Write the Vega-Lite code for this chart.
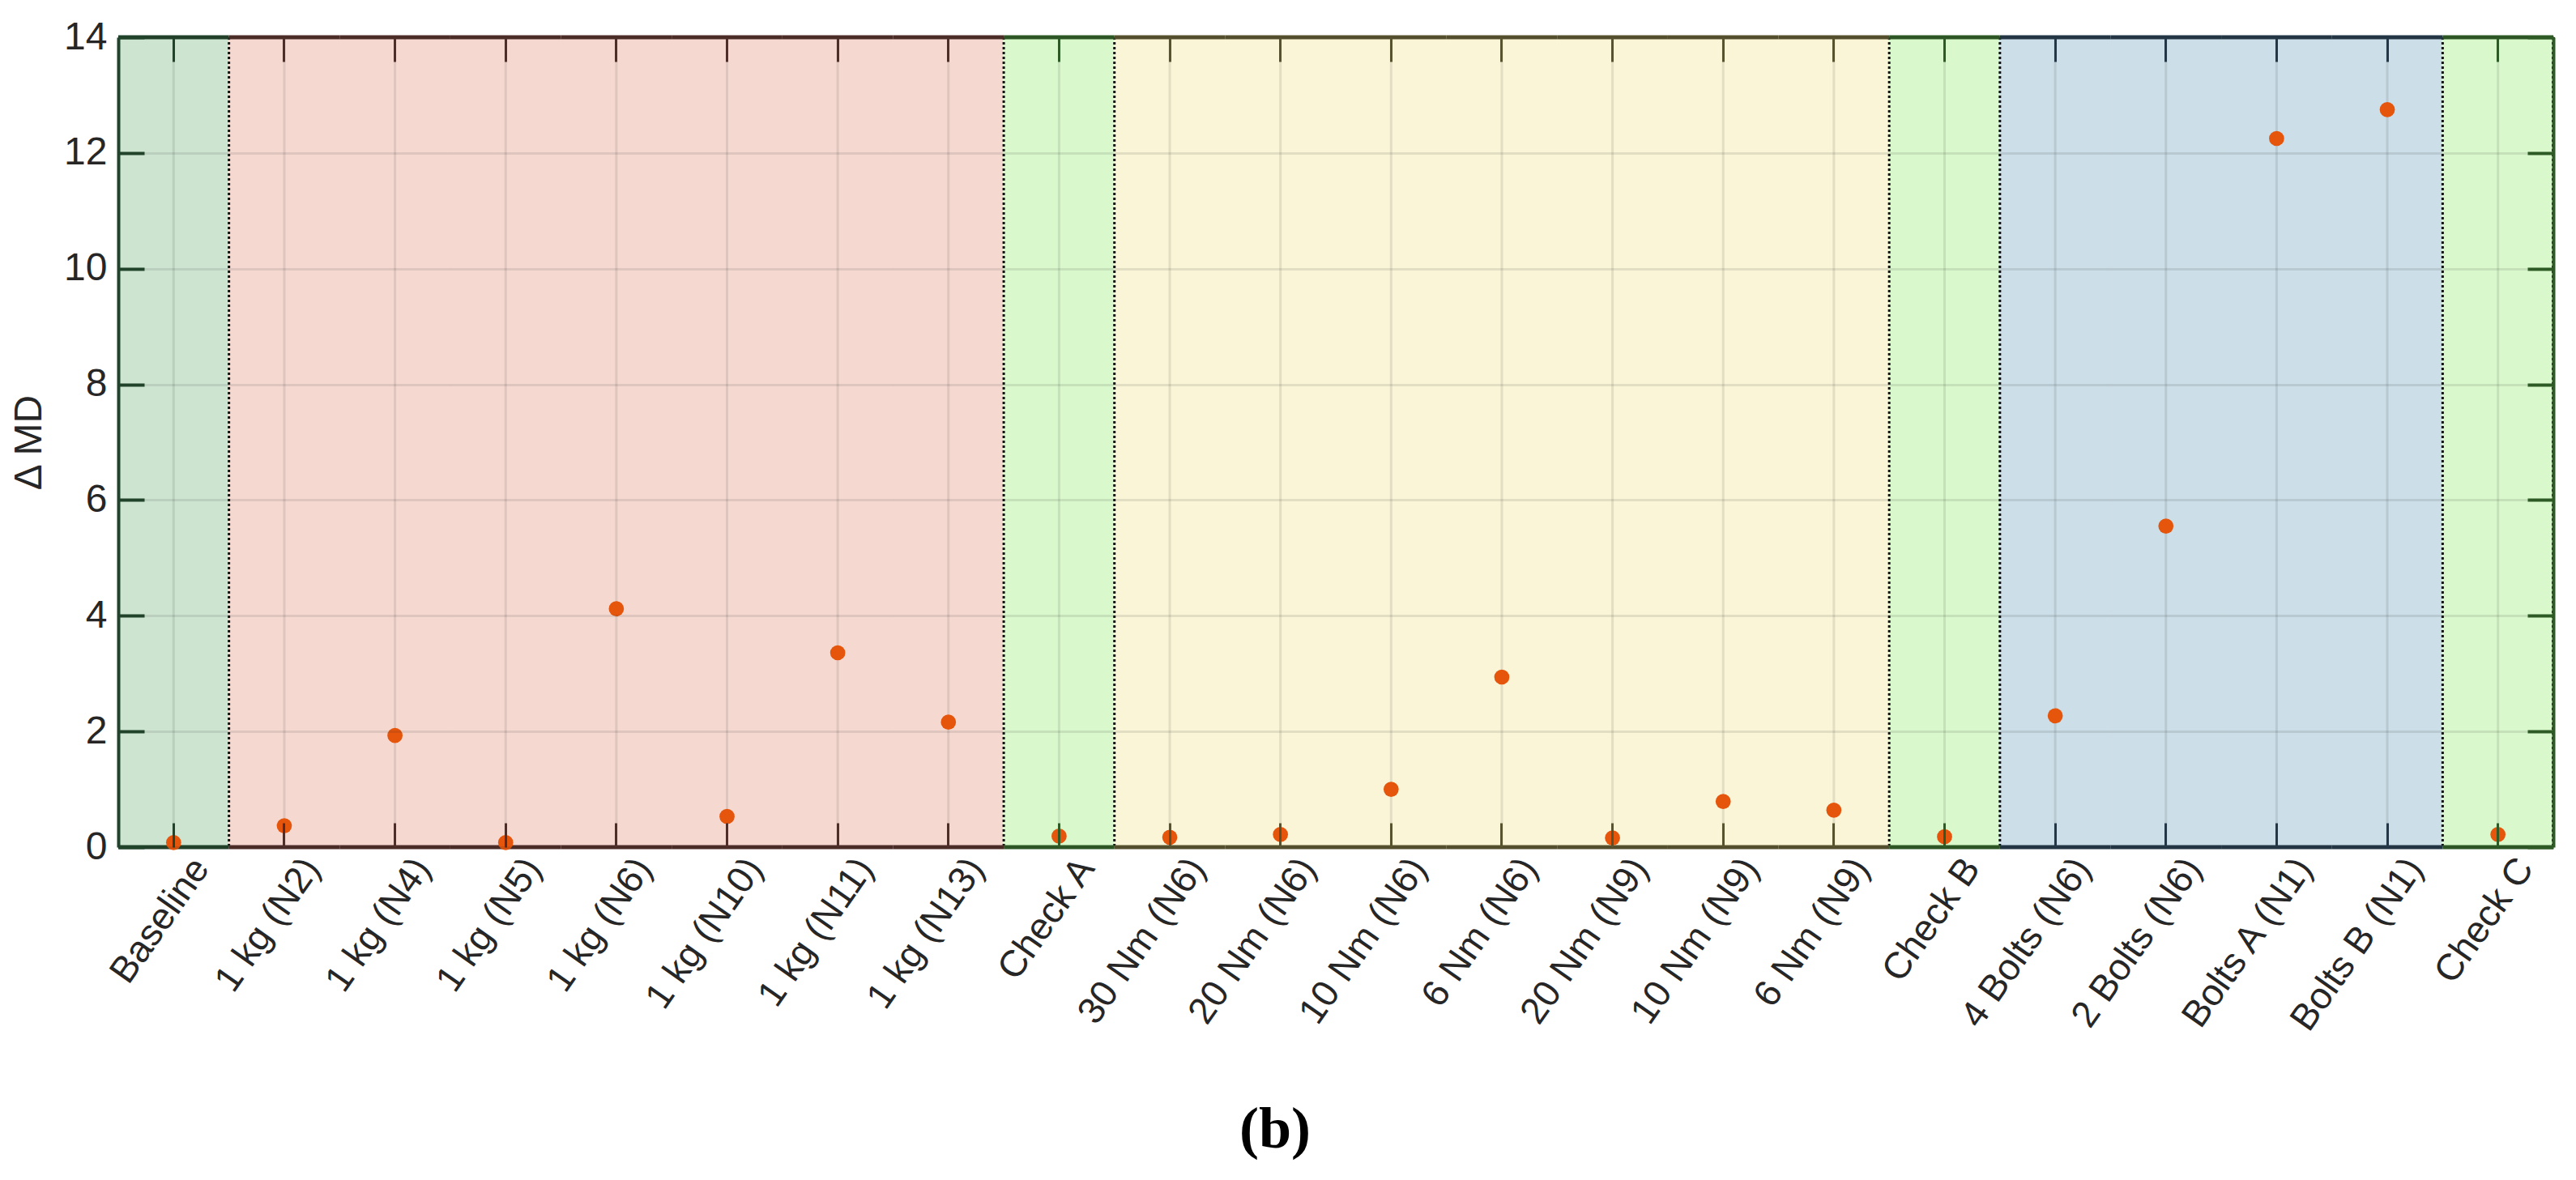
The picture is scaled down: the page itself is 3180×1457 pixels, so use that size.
{
  "$schema": "https://vega.github.io/schema/vega-lite/v6.json",
  "width": 3006,
  "height": 1000,
  "autosize": {"type": "none"},
  "padding": {"left": 146, "top": 46, "right": 28, "bottom": 411},
  "background": "white",
  "title": {
    "text": "(b)",
    "orient": "bottom",
    "anchor": "middle",
    "font": "Liberation Serif",
    "fontWeight": "bold",
    "fontSize": 72,
    "color": "black",
    "offset": 80,
    "dx": -75
  },
  "datasets": {
    "cases": [
      {"cat": "Baseline", "group": "Baseline", "dmd": 0.08},
      {"cat": "1 kg (N2)", "group": "Mass", "dmd": 0.37},
      {"cat": "1 kg (N4)", "group": "Mass", "dmd": 1.93},
      {"cat": "1 kg (N5)", "group": "Mass", "dmd": 0.08},
      {"cat": "1 kg (N6)", "group": "Mass", "dmd": 4.12},
      {"cat": "1 kg (N10)", "group": "Mass", "dmd": 0.53},
      {"cat": "1 kg (N11)", "group": "Mass", "dmd": 3.36},
      {"cat": "1 kg (N13)", "group": "Mass", "dmd": 2.16},
      {"cat": "Check A", "group": "Check", "dmd": 0.19},
      {"cat": "30 Nm (N6)", "group": "Torque", "dmd": 0.17},
      {"cat": "20 Nm (N6)", "group": "Torque", "dmd": 0.22},
      {"cat": "10 Nm (N6)", "group": "Torque", "dmd": 1.0},
      {"cat": "6 Nm (N6)", "group": "Torque", "dmd": 2.94},
      {"cat": "20 Nm (N9)", "group": "Torque", "dmd": 0.16},
      {"cat": "10 Nm (N9)", "group": "Torque", "dmd": 0.79},
      {"cat": "6 Nm (N9)", "group": "Torque", "dmd": 0.64},
      {"cat": "Check B", "group": "Check", "dmd": 0.18},
      {"cat": "4 Bolts (N6)", "group": "Bolts", "dmd": 2.27},
      {"cat": "2 Bolts (N6)", "group": "Bolts", "dmd": 5.55},
      {"cat": "Bolts A (N1)", "group": "Bolts", "dmd": 12.25},
      {"cat": "Bolts B (N1)", "group": "Bolts", "dmd": 12.75},
      {"cat": "Check C", "group": "Check", "dmd": 0.22}
    ],
    "bounds": [
      {"cat": "1 kg (N2)"},
      {"cat": "Check A"},
      {"cat": "30 Nm (N6)"},
      {"cat": "Check B"},
      {"cat": "4 Bolts (N6)"},
      {"cat": "Check C"}
    ]
  },
  "resolve": {
    "axis": {"x": "independent", "y": "independent"},
    "scale": {"stroke": "independent"}
  },
  "layer": [
    {
      "data": {"name": "cases"},
      "mark": {"type": "rect", "strokeWidth": 1.5},
      "encoding": {
        "x": {
          "field": "cat",
          "type": "nominal",
          "scale": {
            "domain": ["Baseline", "1 kg (N2)", "1 kg (N4)", "1 kg (N5)", "1 kg (N6)", "1 kg (N10)", "1 kg (N11)", "1 kg (N13)", "Check A", "30 Nm (N6)", "20 Nm (N6)", "10 Nm (N6)", "6 Nm (N6)", "20 Nm (N9)", "10 Nm (N9)", "6 Nm (N9)", "Check B", "4 Bolts (N6)", "2 Bolts (N6)", "Bolts A (N1)", "Bolts B (N1)", "Check C"],
            "paddingInner": 0,
            "paddingOuter": 0
          },
          "axis": null
        },
        "y": {"datum": 0, "type": "quantitative", "scale": {"domain": [0, 14], "nice": false}, "axis": null},
        "y2": {"datum": 14},
        "fill": {
          "field": "group",
          "type": "nominal",
          "scale": {
            "domain": ["Baseline", "Mass", "Check", "Torque", "Bolts"],
            "range": ["#cde5d0", "#f5d9d1", "#d9f9cc", "#faf5d7", "#ccdee7"]
          },
          "legend": null
        },
        "stroke": {
          "field": "group",
          "type": "nominal",
          "scale": {
            "domain": ["Baseline", "Mass", "Check", "Torque", "Bolts"],
            "range": ["#cde5d0", "#f5d9d1", "#d9f9cc", "#faf5d7", "#ccdee7"]
          },
          "legend": null
        }
      }
    },
    {
      "data": {"name": "cases"},
      "mark": {"type": "rule", "color": "#262626", "opacity": 0.11, "strokeWidth": 3},
      "encoding": {
        "x": {"field": "cat", "type": "nominal", "axis": null}
      }
    },
    {
      "data": {"name": "bounds"},
      "mark": {"type": "rule", "color": "#111111", "strokeWidth": 3, "strokeDash": [3, 3]},
      "encoding": {
        "x": {"field": "cat", "type": "nominal", "bandPosition": 0, "axis": null}
      }
    },
    {
      "data": {"name": "bounds"},
      "mark": {"type": "rule", "color": "#111111", "strokeWidth": 3, "strokeDash": [3, 3]},
      "encoding": {
        "x": {"datum": "Check C", "type": "nominal", "bandPosition": 1, "axis": null}
      }
    },
    {
      "data": {"name": "cases"},
      "mark": {"type": "rect", "fillOpacity": 0, "strokeWidth": 5},
      "encoding": {
        "x": {
          "field": "cat",
          "type": "nominal",
          "axis": {
            "orient": "top",
            "title": null,
            "labels": false,
            "domain": false,
            "grid": false,
            "tickSize": -30,
            "tickWidth": 3,
            "zindex": 1,
            "tickColor": {
              "condition": [
                {"test": "datum.value === 'Baseline'", "value": "#21432a"},
                {"test": "indexof(datum.value, 'Check') === 0", "value": "#2e5a25"},
                {"test": "indexof(datum.value, ' kg ') >= 0", "value": "#4f2d28"},
                {"test": "indexof(datum.value, 'Bolts') >= 0", "value": "#233746"}
              ],
              "value": "#58532f"
            }
          }
        },
        "y": {
          "datum": 14,
          "type": "quantitative",
          "axis": {
            "orient": "right",
            "title": null,
            "labels": false,
            "grid": false,
            "values": [0, 2, 4, 6, 8, 10, 12, 14],
            "tickSize": -32,
            "tickWidth": 4,
            "tickColor": "#2e5a25",
            "domainColor": "#2e5a25",
            "domainWidth": 4,
            "zindex": 1
          }
        },
        "y2": {"datum": 14},
        "stroke": {
          "field": "group",
          "type": "nominal",
          "scale": {
            "domain": ["Baseline", "Mass", "Check", "Torque", "Bolts"],
            "range": ["#21432a", "#4f2d28", "#2e5a25", "#58532f", "#233746"]
          },
          "legend": null
        }
      }
    },
    {
      "data": {"name": "cases"},
      "mark": {"type": "rect", "fillOpacity": 0, "strokeWidth": 5},
      "encoding": {
        "x": {"field": "cat", "type": "nominal", "axis": null},
        "y": {"datum": 0, "type": "quantitative", "axis": null},
        "y2": {"datum": 0},
        "stroke": {
          "field": "group",
          "type": "nominal",
          "scale": {
            "domain": ["Baseline", "Mass", "Check", "Torque", "Bolts"],
            "range": ["#21432a", "#4f2d28", "#2e5a25", "#58532f", "#233746"]
          },
          "legend": null
        }
      }
    },
    {
      "data": {"name": "cases"},
      "mark": {"type": "circle", "color": "#e5550c", "opacity": 1, "size": 350},
      "encoding": {
        "x": {
          "field": "cat",
          "type": "nominal",
          "axis": {
            "orient": "bottom",
            "title": null,
            "domain": false,
            "grid": false,
            "tickSize": -30,
            "tickWidth": 3,
            "zindex": 1,
            "labelAngle": -55,
            "labelAlign": "right",
            "labelBaseline": "middle",
            "labelFont": "Liberation Sans",
            "labelFontSize": 46,
            "labelColor": "#262626",
            "labelPadding": 48,
            "labelOffset": 34,
            "labelLimit": 0,
            "labelOverlap": false,
            "tickColor": {
              "condition": [
                {"test": "datum.value === 'Baseline'", "value": "#21432a"},
                {"test": "indexof(datum.value, 'Check') === 0", "value": "#2e5a25"},
                {"test": "indexof(datum.value, ' kg ') >= 0", "value": "#4f2d28"},
                {"test": "indexof(datum.value, 'Bolts') >= 0", "value": "#233746"}
              ],
              "value": "#58532f"
            }
          }
        },
        "y": {
          "field": "dmd",
          "type": "quantitative",
          "axis": {
            "orient": "left",
            "title": "Δ MD",
            "titleFont": "Liberation Sans",
            "titleFontSize": 48,
            "titleFontWeight": "normal",
            "titleColor": "#262626",
            "titlePadding": 18,
            "values": [0, 2, 4, 6, 8, 10, 12, 14],
            "labelFont": "Liberation Sans",
            "labelFontSize": 48,
            "labelColor": "#262626",
            "labelPadding": 46,
            "tickSize": -32,
            "tickWidth": 4,
            "tickColor": "#21432a",
            "domainColor": "#21432a",
            "domainWidth": 4,
            "grid": true,
            "gridColor": "#262626",
            "gridOpacity": 0.11,
            "gridWidth": 3,
            "zindex": 1
          }
        }
      }
    }
  ],
  "config": {
    "view": {"stroke": null}
  }
}
